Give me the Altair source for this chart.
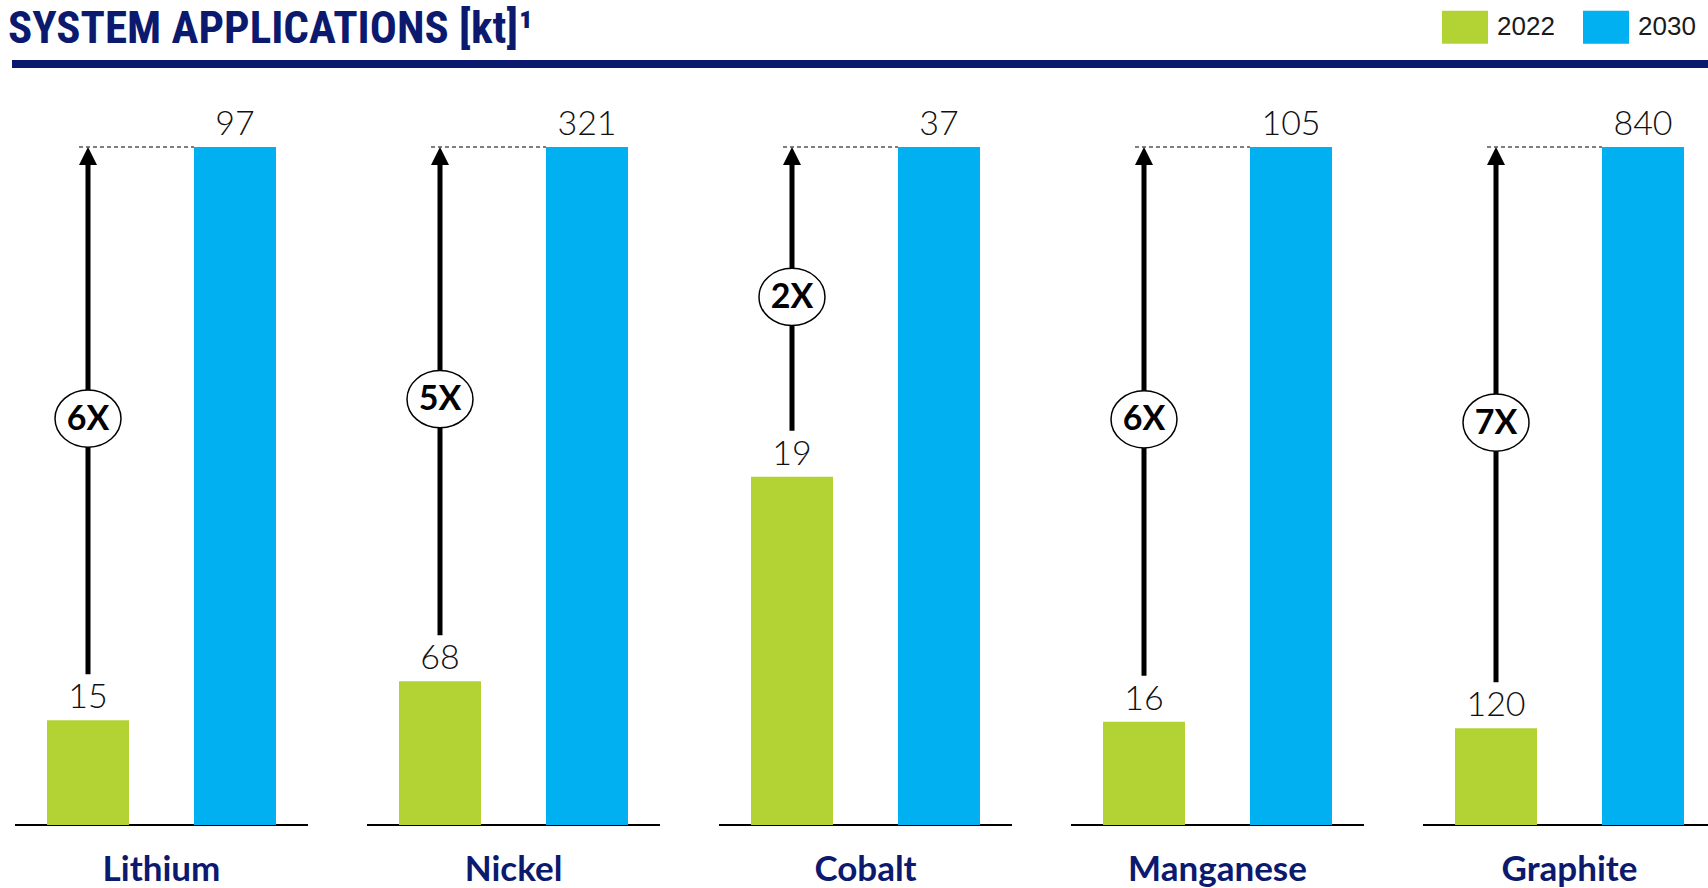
import altair as alt
import pandas as pd

# ---- data ----
metals = ["Lithium", "Nickel", "Cobalt", "Manganese", "Graphite"]
values_2022 = [15, 68, 19, 16, 120]
values_2030 = [97, 321, 37, 105, 840]
multipliers = ["6X", "5X", "2X", "6X", "7X"]
years = ["2022", "2030"]
year_colors = ["#B3D335", "#00B0F0"]

NAVY = "#0B1A6E"
W, H = 1693, 678
STEP, BAND = 352, 293
X_RANGE = 5 * STEP - (STEP - BAND)  # panels run slightly past the right edge, as in the reference

rows = []
for m, a, b in zip(metals, values_2022, values_2030):
    rows.append({"metal": m, "year": "2022", "value": a, "norm": a / b})
    rows.append({"metal": m, "year": "2030", "value": b, "norm": b / b})
long_df = pd.DataFrame(rows)

wide_df = pd.DataFrame({"metal": metals, "v22": values_2022, "v30": values_2030, "mult": multipliers})
wide_df["n22"] = wide_df["v22"] / wide_df["v30"]
wide_df["top"] = wide_df["v30"] / wide_df["v30"]
wide_df["mid"] = (wide_df["n22"] + wide_df["top"]) / 2
wide_df["yr"] = "2022"

deco_df = pd.DataFrame({"k": [0]})

# ---- scales ----
PI_M = (STEP - BAND) / STEP
x_scale = alt.Scale(domain=metals, paddingInner=PI_M, paddingOuter=0, range=[0, X_RANGE])
PI_Y, PO_Y = 0.4422, 0.2177
xoff_scale = alt.Scale(domain=years, paddingInner=PI_Y, paddingOuter=PO_Y)
y_scale = alt.Scale(domain=[0, 1], nice=False, zero=True)

units = 2 - PI_Y + 2 * PO_Y
green_center = (PO_Y + (1 - PI_Y) / 2) / units
blue_start = (PO_Y + 1) / units
dash_start = green_center - 9 / BAND

x_axis = alt.Axis(title=None, domain=False, ticks=False, tickSize=0, grid=False,
                  labelPadding=27, labelFontSize=35, labelFont="Lato", labelLimit=0,
                  labelFontWeight="bold", labelColor=NAVY, labelAngle=0)


def xenc(**kw):
    return alt.X("metal:N", scale=x_scale, sort=metals, axis=x_axis, **kw)


baseline = alt.Chart(wide_df).mark_rule(color="black", strokeWidth=2).encode(
    x=xenc(bandPosition=0),
    x2=alt.X2("metal", bandPosition=1),
    y=alt.Y("zero:Q", scale=y_scale, axis=None),
).transform_calculate(zero="0")

dashed = alt.Chart(wide_df).mark_rule(color="#000", strokeWidth=1.2, strokeDash=[4, 3]).encode(
    x=xenc(bandPosition=dash_start),
    x2=alt.X2("metal", bandPosition=blue_start),
    y=alt.Y("top:Q", scale=y_scale, axis=None),
)

bars = alt.Chart(long_df).mark_bar().encode(
    x=xenc(),
    xOffset=alt.XOffset("year:N", scale=xoff_scale),
    y=alt.Y("norm:Q", scale=y_scale, axis=None),
    color=alt.Color(
        "year:N",
        scale=alt.Scale(domain=years, range=year_colors),
        legend=alt.Legend(
            orient="none", legendX=1427, legendY=-143, direction="horizontal",
            title=None, symbolType="M-1,-0.717L1,-0.717L1,0.717L-1,0.717Z",
            symbolSize=2116, symbolStrokeWidth=0, labelFontSize=26,
            labelFont="Liberation Sans", labelColor="#1a1a1a", labelOffset=9,
            columnPadding=28, padding=0, rowPadding=0,
        ),
    ),
)

value_labels = alt.Chart(long_df).mark_text(
    baseline="alphabetic", dy=-12, fontSize=34, font="Lato", fontWeight=300, color="#111"
).encode(
    x=xenc(),
    xOffset=alt.XOffset("year:N", scale=xoff_scale),
    y=alt.Y("norm:Q", scale=y_scale, axis=None),
    text=alt.Text("value:Q"),
)

shaft = alt.Chart(wide_df).mark_rule(color="black", strokeWidth=5, yOffset=-46, y2Offset=12).encode(
    x=xenc(),
    xOffset=alt.XOffset("yr:N", scale=xoff_scale),
    y=alt.Y("n22:Q", scale=y_scale, axis=None),
    y2="top:Q",
)

head = alt.Chart(wide_df).mark_point(
    shape="M-1,1L0,-1L1,1Z", size=324, filled=True, color="black", opacity=1, yOffset=9
).encode(
    x=xenc(),
    xOffset=alt.XOffset("yr:N", scale=xoff_scale),
    y=alt.Y("top:Q", scale=y_scale, axis=None),
)

ELLIPSE = ("M-1,0C-1,-0.478,-0.552,-0.866,0,-0.866C0.552,-0.866,1,-0.478,1,0"
           "C1,0.478,0.552,0.866,0,0.866C-0.552,0.866,-1,0.478,-1,0Z")
ellipse = alt.Chart(wide_df).mark_point(
    shape=ELLIPSE, size=4356, filled=True, fill="white", stroke="black",
    strokeWidth=1.5, opacity=1, fillOpacity=1, strokeOpacity=1, yOffset=-15
).encode(
    x=xenc(),
    xOffset=alt.XOffset("yr:N", scale=xoff_scale),
    y=alt.Y("mid:Q", scale=y_scale, axis=None),
)

ellipse_text = alt.Chart(wide_df).mark_text(
    fontSize=34, font="Lato", fontWeight="bold", color="black", baseline="middle", yOffset=-15, dy=1
).encode(
    x=xenc(),
    xOffset=alt.XOffset("yr:N", scale=xoff_scale),
    y=alt.Y("mid:Q", scale=y_scale, axis=None),
    text="mult:N",
)

navy_rule = alt.Chart(deco_df).mark_rule(color=NAVY, strokeWidth=8).encode(
    x=alt.value(-3), x2=alt.value(W), y=alt.value(-83)
)

chart = alt.layer(
    baseline, dashed, bars, value_labels, shaft, head, ellipse, ellipse_text, navy_rule
).properties(
    width=W, height=H,
    title=alt.TitleParams(
        "SYSTEM APPLICATIONS [kt]¹", anchor="start", fontSize=45,
        font="Liberation Sans Narrow, Roboto Condensed, DejaVu Sans Condensed, sans-serif",
        fontWeight="bold", color=NAVY, baseline="alphabetic", offset=-84,
    ),
    autosize=alt.AutoSizeParams(type="none"),
    padding={"left": 15, "top": 147, "right": 0, "bottom": 63},
).configure_view(stroke=None)

chart.save("out.html", embed_options={"renderer": "svg", "actions": False})
